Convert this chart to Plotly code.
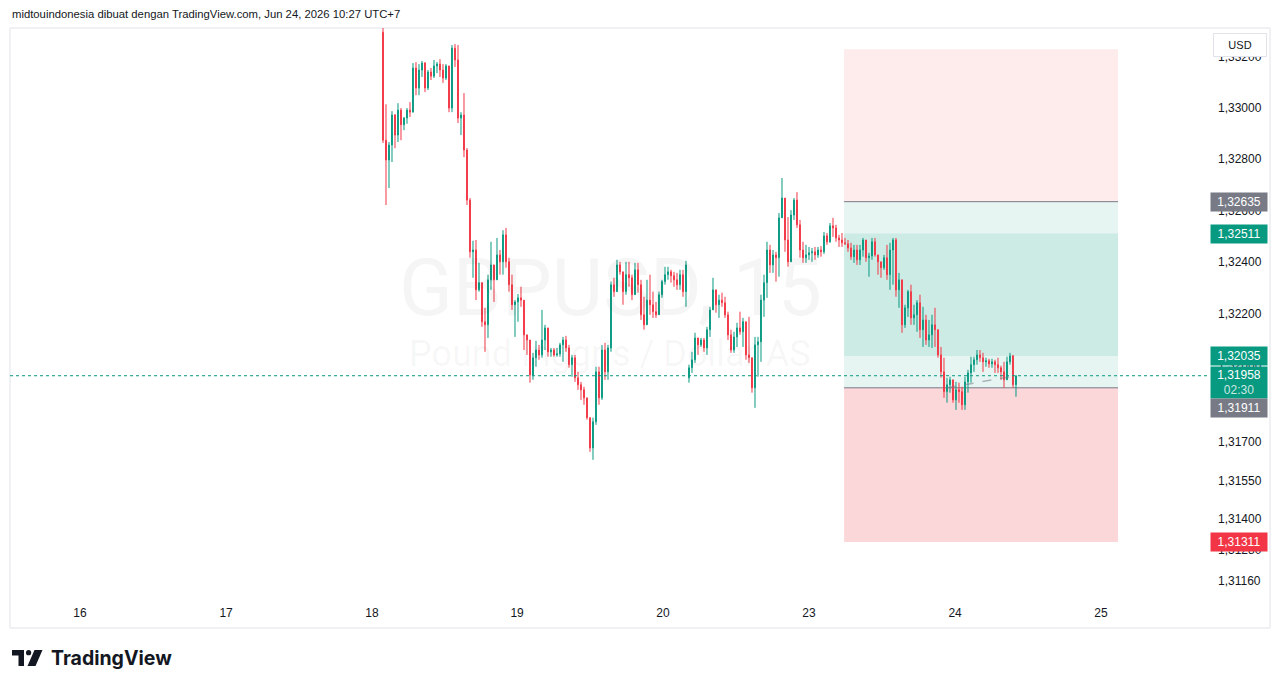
import plotly.graph_objects as go

# ---------------- DATA (GBPUSD, 15; ~30-min steps) ----------------
opens = [
    1.33294, 1.32874, 1.32797, 1.32855, 1.32972, 1.32894, 1.32991, 1.32934, 1.32960, 1.32991,
    1.32983, 1.33155, 1.33077, 1.33147, 1.33174, 1.33077, 1.33139, 1.33123, 1.33163, 1.33170,
    1.33147, 1.33116, 1.33163, 1.32999, 1.33232, 1.33186, 1.32960, 1.32972, 1.32836, 1.32641,
    1.32440, 1.32447, 1.32292, 1.32320, 1.32168, 1.32156, 1.32331, 1.32389, 1.32331, 1.32428,
    1.32401, 1.32506, 1.32401, 1.32312, 1.32234, 1.32245, 1.32261, 1.32252, 1.32117, 1.32097,
    1.31961, 1.32028, 1.32058, 1.32039, 1.32097, 1.32144, 1.32051, 1.32058, 1.32039, 1.32043,
    1.32078, 1.32097, 1.32066, 1.32001, 1.32028, 1.31950, 1.31923, 1.31903, 1.31872, 1.31795,
    1.31677, 1.31779, 1.31973, 1.31872, 1.32058, 1.31973, 1.32066, 1.32312, 1.32285, 1.32389,
    1.32362, 1.32285, 1.32351, 1.32339, 1.32273, 1.32370, 1.32312, 1.32195, 1.32156, 1.32252,
    1.32234, 1.32207, 1.32195, 1.32273, 1.32324, 1.32351, 1.32362, 1.32347, 1.32331, 1.32312,
    1.32351, 1.32285, 1.31950, 1.31989, 1.32020, 1.32105, 1.32078, 1.32097, 1.32066, 1.32137,
    1.32214, 1.32292, 1.32234, 1.32252, 1.32242, 1.32195, 1.32117, 1.32058, 1.32109, 1.32144,
    1.32129, 1.32168, 1.32039, 1.32028, 1.31911, 1.32078, 1.32090, 1.32252, 1.32320, 1.32447,
    1.32389, 1.32428, 1.32417, 1.32572, 1.32649, 1.32486, 1.32401, 1.32583, 1.32641, 1.32545,
    1.32447, 1.32417, 1.32428, 1.32436, 1.32440, 1.32428, 1.32447, 1.32440, 1.32502, 1.32479,
    1.32541, 1.32533, 1.32494, 1.32486, 1.32475, 1.32471, 1.32455, 1.32421, 1.32447, 1.32409,
    1.32447, 1.32486, 1.32417, 1.32424, 1.32479, 1.32428, 1.32401, 1.32378, 1.32417, 1.32351,
    1.32447, 1.32486, 1.32292, 1.32331, 1.32156, 1.32222, 1.32285, 1.32183, 1.32195, 1.32242,
    1.32137, 1.32175, 1.32097, 1.32117, 1.32156, 1.32137, 1.32039, 1.31973, 1.31896, 1.31923,
    1.31942, 1.31864, 1.31903, 1.31896, 1.31845, 1.31934, 1.31969, 1.32001, 1.32020, 1.32039,
    1.32028, 1.32012, 1.32016, 1.32004, 1.32012, 1.32001, 1.31989, 1.31973, 1.31942, 1.32012,
    1.32035, 1.31923,
]
highs = [
    1.33314, 1.33014, 1.32867, 1.32987, 1.32976, 1.33018, 1.32999, 1.32964, 1.32999, 1.33022,
    1.33174, 1.33178, 1.33170, 1.33182, 1.33178, 1.33147, 1.33155, 1.33186, 1.33178, 1.33189,
    1.33170, 1.33170, 1.33163, 1.33244, 1.33248, 1.33244, 1.32983, 1.33057, 1.32843, 1.32649,
    1.32483, 1.32486, 1.32397, 1.32320, 1.32222, 1.32351, 1.32479, 1.32389, 1.32494, 1.32447,
    1.32524, 1.32533, 1.32417, 1.32351, 1.32252, 1.32276, 1.32304, 1.32252, 1.32117, 1.32097,
    1.32047, 1.32094, 1.32078, 1.32214, 1.32156, 1.32144, 1.32066, 1.32066, 1.32066, 1.32086,
    1.32109, 1.32113, 1.32078, 1.32039, 1.32039, 1.31973, 1.31934, 1.31915, 1.31872, 1.31795,
    1.31795, 1.31993, 1.31993, 1.32078, 1.32086, 1.32078, 1.32324, 1.32339, 1.32409, 1.32401,
    1.32362, 1.32401, 1.32401, 1.32351, 1.32397, 1.32397, 1.32331, 1.32265, 1.32331, 1.32351,
    1.32285, 1.32245, 1.32285, 1.32331, 1.32382, 1.32382, 1.32370, 1.32362, 1.32358, 1.32370,
    1.32370, 1.32405, 1.32001, 1.32051, 1.32125, 1.32105, 1.32105, 1.32105, 1.32148, 1.32226,
    1.32339, 1.32292, 1.32273, 1.32281, 1.32265, 1.32207, 1.32137, 1.32129, 1.32164, 1.32207,
    1.32183, 1.32168, 1.32187, 1.32028, 1.32109, 1.32109, 1.32273, 1.32351, 1.32479, 1.32467,
    1.32447, 1.32440, 1.32591, 1.32727, 1.32649, 1.32575, 1.32602, 1.32649, 1.32672, 1.32564,
    1.32479, 1.32467, 1.32459, 1.32455, 1.32459, 1.32459, 1.32462, 1.32517, 1.32513, 1.32552,
    1.32572, 1.32545, 1.32506, 1.32513, 1.32494, 1.32486, 1.32475, 1.32467, 1.32467, 1.32467,
    1.32494, 1.32486, 1.32436, 1.32494, 1.32494, 1.32428, 1.32401, 1.32428, 1.32467, 1.32475,
    1.32494, 1.32494, 1.32358, 1.32331, 1.32234, 1.32292, 1.32312, 1.32234, 1.32252, 1.32273,
    1.32226, 1.32195, 1.32175, 1.32195, 1.32222, 1.32137, 1.32070, 1.32028, 1.31950, 1.31954,
    1.31942, 1.31934, 1.31931, 1.31915, 1.31954, 1.31981, 1.32032, 1.32032, 1.32058, 1.32058,
    1.32047, 1.32028, 1.32024, 1.32024, 1.32020, 1.32028, 1.31997, 1.32012, 1.32032, 1.32047,
    1.32039, 1.31958,
]
lows = [
    1.32863, 1.32622, 1.32688, 1.32789, 1.32843, 1.32867, 1.32874, 1.32913, 1.32938, 1.32964,
    1.32983, 1.33049, 1.33049, 1.33120, 1.33061, 1.33069, 1.33108, 1.33116, 1.33135, 1.33120,
    1.33097, 1.33108, 1.32983, 1.32983, 1.33159, 1.32941, 1.32894, 1.32808, 1.32622, 1.32417,
    1.32339, 1.32252, 1.32285, 1.32148, 1.32051, 1.32105, 1.32292, 1.32245, 1.32331, 1.32351,
    1.32351, 1.32378, 1.32285, 1.32214, 1.32109, 1.32168, 1.32226, 1.32058, 1.32039, 1.31931,
    1.31942, 1.31993, 1.32020, 1.32028, 1.32058, 1.32032, 1.32032, 1.32032, 1.32032, 1.32032,
    1.32012, 1.32051, 1.31989, 1.31954, 1.31934, 1.31903, 1.31864, 1.31845, 1.31787, 1.31662,
    1.31631, 1.31767, 1.31845, 1.31864, 1.31942, 1.31942, 1.32051, 1.32265, 1.32285, 1.32351,
    1.32234, 1.32273, 1.32304, 1.32252, 1.32273, 1.32281, 1.32175, 1.32137, 1.32156, 1.32195,
    1.32183, 1.32183, 1.32195, 1.32261, 1.32312, 1.32331, 1.32320, 1.32304, 1.32292, 1.32292,
    1.32265, 1.32226, 1.31931, 1.31969, 1.32008, 1.32039, 1.32070, 1.32051, 1.32039, 1.32109,
    1.32214, 1.32203, 1.32183, 1.32226, 1.32183, 1.32097, 1.32047, 1.32047, 1.32070, 1.32117,
    1.32070, 1.32020, 1.32008, 1.31892, 1.31833, 1.31954, 1.32012, 1.32187, 1.32261, 1.32358,
    1.32358, 1.32324, 1.32343, 1.32572, 1.32440, 1.32382, 1.32401, 1.32564, 1.32533, 1.32417,
    1.32397, 1.32397, 1.32409, 1.32401, 1.32409, 1.32417, 1.32421, 1.32432, 1.32467, 1.32475,
    1.32498, 1.32479, 1.32459, 1.32459, 1.32467, 1.32440, 1.32409, 1.32397, 1.32389, 1.32389,
    1.32421, 1.32401, 1.32343, 1.32409, 1.32421, 1.32351, 1.32339, 1.32370, 1.32331, 1.32292,
    1.32312, 1.32265, 1.32222, 1.32125, 1.32144, 1.32187, 1.32156, 1.32156, 1.32129, 1.32105,
    1.32070, 1.32078, 1.32070, 1.32066, 1.32070, 1.32028, 1.31950, 1.31872, 1.31853, 1.31892,
    1.31853, 1.31825, 1.31853, 1.31825, 1.31825, 1.31892, 1.31931, 1.31973, 1.32001, 1.32012,
    1.31973, 1.31993, 1.31989, 1.31989, 1.31969, 1.31969, 1.31942, 1.31911, 1.31942, 1.32001,
    1.31911, 1.31876,
]
closes = [
    1.32874, 1.32797, 1.32855, 1.32972, 1.32894, 1.32991, 1.32934, 1.32960, 1.32991, 1.32983,
    1.33155, 1.33077, 1.33147, 1.33174, 1.33077, 1.33139, 1.33123, 1.33163, 1.33170, 1.33147,
    1.33116, 1.33163, 1.32999, 1.33232, 1.33186, 1.32960, 1.32972, 1.32836, 1.32641, 1.32440,
    1.32447, 1.32292, 1.32320, 1.32168, 1.32156, 1.32331, 1.32389, 1.32331, 1.32428, 1.32401,
    1.32506, 1.32401, 1.32312, 1.32234, 1.32245, 1.32261, 1.32252, 1.32117, 1.32097, 1.31961,
    1.32028, 1.32058, 1.32039, 1.32097, 1.32144, 1.32051, 1.32058, 1.32039, 1.32043, 1.32078,
    1.32097, 1.32066, 1.32001, 1.32028, 1.31950, 1.31923, 1.31903, 1.31872, 1.31795, 1.31677,
    1.31779, 1.31973, 1.31872, 1.32058, 1.31973, 1.32066, 1.32312, 1.32285, 1.32389, 1.32362,
    1.32285, 1.32351, 1.32339, 1.32273, 1.32370, 1.32312, 1.32195, 1.32156, 1.32252, 1.32234,
    1.32207, 1.32195, 1.32273, 1.32324, 1.32351, 1.32362, 1.32347, 1.32331, 1.32312, 1.32351,
    1.32285, 1.32389, 1.31989, 1.32020, 1.32105, 1.32078, 1.32097, 1.32066, 1.32137, 1.32214,
    1.32292, 1.32234, 1.32252, 1.32242, 1.32195, 1.32117, 1.32058, 1.32109, 1.32144, 1.32129,
    1.32168, 1.32039, 1.32028, 1.31911, 1.32078, 1.32090, 1.32252, 1.32320, 1.32447, 1.32389,
    1.32428, 1.32417, 1.32572, 1.32649, 1.32486, 1.32401, 1.32583, 1.32641, 1.32545, 1.32447,
    1.32417, 1.32428, 1.32436, 1.32440, 1.32428, 1.32447, 1.32440, 1.32502, 1.32479, 1.32541,
    1.32533, 1.32494, 1.32486, 1.32475, 1.32471, 1.32455, 1.32421, 1.32447, 1.32409, 1.32447,
    1.32486, 1.32417, 1.32424, 1.32479, 1.32428, 1.32401, 1.32378, 1.32417, 1.32351, 1.32447,
    1.32486, 1.32292, 1.32331, 1.32156, 1.32222, 1.32285, 1.32183, 1.32195, 1.32242, 1.32137,
    1.32175, 1.32097, 1.32117, 1.32156, 1.32137, 1.32039, 1.31973, 1.31896, 1.31923, 1.31942,
    1.31864, 1.31903, 1.31896, 1.31845, 1.31934, 1.31969, 1.32001, 1.32020, 1.32039, 1.32028,
    1.32012, 1.32016, 1.32004, 1.32012, 1.32001, 1.31989, 1.31973, 1.31942, 1.32012, 1.32035,
    1.31923, 1.31958,
]
bars = list(range(len(closes)))

# time axis (bar-index units) and its day labels
day_tick_bars = [-101.0, -52.3, -3.7, 44.7, 93.3, 142.0, 190.7, 239.3]
day_tick_labels = ["16", "17", "18", "19", "20", "23", "24", "25"]
x_view = [-124.33, 275.67]

# price axis
price_view = [1.310896, 1.333104]
price_ticks = [1.332, 1.330, 1.328, 1.326, 1.324, 1.322, 1.320, 1.3185, 1.317, 1.3155, 1.314, 1.3128, 1.3116]

# position tool levels
pos_start_bar, pos_end_bar = 153.7, 245.0
pos_top = 1.33228
pos_upper = 1.32635
pos_inner_top = 1.32511
pos_inner_bot = 1.32035
pos_entry = 1.31911
pos_bottom = 1.31311
entry_bar = 188
countdown = "02:30"

GREEN = "#089981"
RED = "#F23645"
GRAY = "#787B86"
TXT = "#131722"


def fmt(p, d=5):
    return f"{p:.{d}f}".replace(".", ",")


fig = go.Figure()

fig.add_trace(go.Candlestick(
    x=bars, open=opens, high=highs, low=lows, close=closes,
    increasing=dict(line=dict(color=GREEN, width=1), fillcolor=GREEN),
    decreasing=dict(line=dict(color=RED, width=1), fillcolor=RED),
    whiskerwidth=0, hoverinfo="skip", showlegend=False,
))

fig.add_trace(go.Scatter(
    x=[entry_bar, bars[-1]], y=[pos_entry, closes[-1]], mode="lines",
    line=dict(color="rgba(120,123,134,0.55)", width=1.5, dash="dash"),
    hoverinfo="skip", showlegend=False,
))

shapes = [
    dict(type="rect", xref="x", yref="y", x0=pos_start_bar, x1=pos_end_bar, y0=pos_upper, y1=pos_top,
         fillcolor="rgba(242,54,69,0.10)", line=dict(width=0), layer="below"),
    dict(type="rect", xref="x", yref="y", x0=pos_start_bar, x1=pos_end_bar, y0=pos_entry, y1=pos_upper,
         fillcolor="rgba(8,153,129,0.10)", line=dict(width=0), layer="below"),
    dict(type="rect", xref="x", yref="y", x0=pos_start_bar, x1=pos_end_bar, y0=pos_inner_bot, y1=pos_inner_top,
         fillcolor="rgba(8,153,129,0.11)", line=dict(width=0), layer="below"),
    dict(type="rect", xref="x", yref="y", x0=pos_start_bar, x1=pos_end_bar, y0=pos_bottom, y1=pos_entry,
         fillcolor="rgba(242,54,69,0.20)", line=dict(width=0), layer="below"),
    dict(type="line", xref="x", yref="y", x0=pos_start_bar, x1=pos_end_bar, y0=pos_upper, y1=pos_upper,
         line=dict(color=GRAY, width=1), layer="below"),
    dict(type="line", xref="x", yref="y", x0=pos_start_bar, x1=pos_end_bar, y0=pos_entry, y1=pos_entry,
         line=dict(color=GRAY, width=1), layer="below"),
    # last price dotted line
    dict(type="line", xref="paper", yref="y", x0=0, x1=1, y0=closes[-1], y1=closes[-1],
         line=dict(color=GREEN, width=1, dash="dot"), layer="above"),
]

# decorative pixel helpers (plot area: x 10..1210, y 28..599)
def px(x):
    return (x - 10) / 1200.0


def py(y):
    return (599 - y) / 571.0


# outer frame
shapes.append(dict(type="rect", xref="paper", yref="paper", x0=px(10), x1=px(1270), y0=py(628), y1=py(28),
                   line=dict(color="#E0E3EB", width=1), layer="below"))
# TradingView logo icon
shapes += [
    dict(type="rect", xref="paper", yref="paper", x0=px(12), x1=px(24), y0=py(655.5), y1=py(650),
         fillcolor="#131722", line=dict(width=0)),
    dict(type="rect", xref="paper", yref="paper", x0=px(18.5), x1=px(24), y0=py(666), y1=py(650),
         fillcolor="#131722", line=dict(width=0)),
    dict(type="circle", xref="paper", yref="paper", x0=px(26), x1=px(31.2), y0=py(655.3), y1=py(650),
         fillcolor="#131722", line=dict(width=0)),
    dict(type="path", xref="paper", yref="paper",
         path=f"M {px(34.5)} {py(650)} L {px(42.5)} {py(650)} L {px(35.5)} {py(666)} L {px(27.5)} {py(666)} Z",
         fillcolor="#131722", line=dict(width=0)),
]

annotations = [
    dict(text="midtouindonesia dibuat dengan TradingView.com, Jun 24, 2026 10:27 UTC+7",
         xref="paper", yref="paper", x=px(10), y=py(14), xanchor="left", yanchor="middle",
         showarrow=False, font=dict(family="Liberation Sans, Arial", size=11.3, color=TXT)),
    dict(text="TradingView", xref="paper", yref="paper", x=px(49), y=py(658), xanchor="left", yanchor="middle",
         showarrow=False, font=dict(family="Inter, Roboto", size=19.5, color=TXT, weight=700)),
    # watermark
    dict(text="GBPUSD, 15", xref="paper", yref="paper", x=0.5, y=py(288), xanchor="center", yanchor="middle",
         showarrow=False, font=dict(family="Liberation Sans Narrow, Roboto, sans-serif", size=79,
                                    color="rgba(19,23,34,0.045)")),
    dict(text="Pound Inggris / Dollar AS", xref="paper", yref="paper", x=0.5, y=py(354), xanchor="center",
         yanchor="middle", showarrow=False,
         font=dict(family="Liberation Sans Narrow, Roboto, sans-serif", size=36, color="rgba(19,23,34,0.045)")),
    # USD button
    dict(text="USD", xref="paper", yref="paper", x=px(1213), y=py(33), xanchor="left", yanchor="top",
         showarrow=False, width=48, height=18, borderpad=2, bgcolor="#FFFFFF", bordercolor="#E0E3EB",
         borderwidth=1, font=dict(family="Liberation Sans, Arial", size=11, color=TXT)),
]


def price_label(value, color, yanchor="middle", yshift=0, text=None, height=14):
    return dict(text=text or fmt(value), xref="paper", yref="y", x=1.0, y=value, xanchor="left",
                yanchor=yanchor, yshift=yshift, showarrow=False, width=52, height=height, borderpad=2,
                bgcolor=color, align="center",
                font=dict(family="Liberation Sans, Arial", size=12, color="#FFFFFF"))


annotations += [
    price_label(pos_upper, GRAY),
    price_label(pos_inner_top, GREEN),
    price_label(pos_inner_bot, GREEN),
    price_label(closes[-1], GREEN, yanchor="top", yshift=10, height=27,
                text=fmt(closes[-1]) + "<br><span style='color:rgba(255,255,255,0.8)'>" + countdown + "</span>"),
    price_label(pos_entry, GRAY, yanchor="top", yshift=-10),
    price_label(pos_bottom, RED),
]

fig.update_layout(
    width=1281, height=688,
    margin=dict(l=10, r=71, t=28, b=89, pad=0),
    paper_bgcolor="#FFFFFF", plot_bgcolor="#FFFFFF",
    boxgap=0.6,
    showlegend=False,
    shapes=shapes,
    annotations=annotations,
    xaxis=dict(range=x_view, tickvals=day_tick_bars, ticktext=day_tick_labels, showgrid=False,
               zeroline=False, showline=False, ticks="", ticklabelstandoff=5,
               tickfont=dict(family="Liberation Sans Narrow, Liberation Sans, Arial", size=12, color=TXT),
               rangeslider=dict(visible=False), fixedrange=True),
    yaxis=dict(range=price_view, side="right", tickvals=price_ticks,
               ticktext=[fmt(v) for v in price_ticks], showgrid=False, zeroline=False, showline=False,
               ticks="", ticklabelstandoff=7,
               tickfont=dict(family="Liberation Sans, Arial", size=12, color=TXT), fixedrange=True),
)

fig.write_html("out.html")
